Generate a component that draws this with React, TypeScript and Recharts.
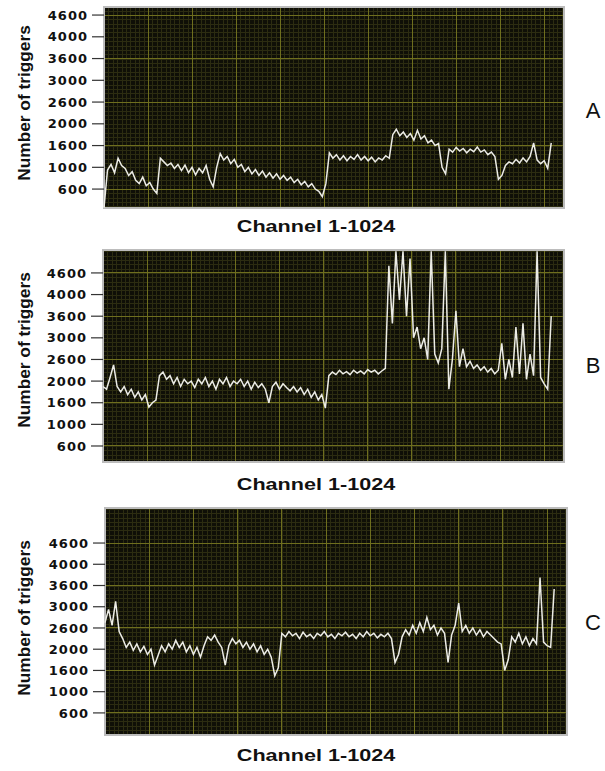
import React from "react";
import { CartesianGrid, Line, LineChart, ReferenceArea, XAxis, YAxis } from "recharts";

// tick labels as printed on the figure (evenly spaced on the axis)
const yLabels = ["600", "1000", "1600", "2000", "2600", "3000", "3600", "4000", "4600"];
const yLabelValues = [600, 1000, 1600, 2000, 2600, 3000, 3600, 4000, 4600];
const majorX = [100, 200, 300, 400, 500, 600, 700, 800, 900, 1000];

// triggers per channel, one reading every 8 channels
const panelA = [
  260, 950, 1080, 900, 1250, 1050, 980, 850, 920, 760,
  700, 820, 660, 720, 600, 520, 1250, 1150, 1050, 1120,
  980, 1080, 940, 1060, 900, 1000, 860, 980, 900, 1050,
  780, 640, 1000, 1380, 1200, 1300, 1100, 1220, 1000, 1080,
  920, 1000, 880, 960, 850, 930, 820, 900, 800, 880,
  780, 850, 760, 820, 720, 780, 680, 740, 640, 700,
  600, 560, 460, 700, 1400, 1250, 1350, 1200, 1320, 1180,
  1300, 1220, 1350, 1200, 1300, 1180, 1280, 1150, 1260, 1200,
  1320, 1250, 1800, 1900, 1780, 1850, 1750, 1820, 1700, 1880,
  1720, 1780, 1650, 1700, 1600, 1640, 1000, 880, 1500, 1420,
  1550, 1450, 1520, 1400, 1500, 1430, 1560, 1420, 1480, 1350,
  1420, 1300, 780, 850, 1050, 1150, 1100, 1220, 1120, 1260,
  1150, 1300, 1650, 1200, 1100, 1180, 980, 1650,
];

const panelB = [
  1900, 1850, 2100, 2450, 1900, 1800, 1900, 1750, 1850, 1700,
  1800, 1650, 1750, 1480, 1600, 1650, 2150, 2250, 2050, 2150,
  1950, 2100, 1900, 2050, 1950, 2000, 1880, 2050, 1950, 2100,
  1900, 2000, 1850, 2050, 1950, 2100, 1900, 2000, 1950, 2050,
  1900, 2000, 1850, 1980, 1880, 1950, 1850, 1600, 1900, 1980,
  1850, 1950, 1880, 1820, 1900, 1800, 1880, 1750, 1850, 1700,
  1800, 1650, 1750, 1450, 2150, 2250, 2180, 2300, 2200, 2260,
  2180, 2300, 2220, 2280, 2200, 2320, 2250, 2300, 2200, 2280,
  2350, 4800, 3400, 5200, 3900, 5200, 3600, 5000, 3000, 3300,
  2800, 3000, 2600, 5200, 2700, 2500, 2800, 5200, 1850, 2600,
  3700, 2400, 2800, 2400, 2550, 2350, 2450, 2300, 2400, 2250,
  2350, 2200, 2300, 2900, 2050, 2600, 2100, 3300, 2200, 3400,
  2050, 2700, 2150, 5200, 2100, 1950, 1850, 3600,
];

const panelC = [
  2700, 2950, 2650, 3150, 2500, 2300, 2050, 2200, 1980, 2150,
  1950, 2080, 1900, 2000, 1700, 1880, 2100, 1950, 2150, 2000,
  2250, 2050, 2200, 1950, 2100, 1900, 2050, 1850, 2100, 2350,
  2250, 2400, 2200, 2050, 1700, 2100, 2300, 2150, 2250, 2050,
  2200, 2000, 2150, 1950, 2100, 1900, 2000, 1850, 1450, 1650,
  2450, 2350, 2500, 2380, 2450, 2300, 2480, 2350, 2420, 2300,
  2450, 2380, 2500, 2350, 2420, 2300, 2450, 2380, 2480, 2350,
  2420, 2300, 2450, 2350, 2500, 2380, 2450, 2320, 2420, 2350,
  2450, 2300, 1750, 1900, 2350, 2550, 2400, 2650, 2450, 2700,
  2500, 2800, 2550, 2650, 2400, 2600, 2450, 1750, 2400, 2650,
  3100, 2500, 2650, 2450, 2600, 2400, 2550, 2350, 2500, 2400,
  2300, 2200, 2150, 1600, 1800, 2350, 2200, 2450, 2150, 2350,
  2100, 2300, 2150, 3750, 2200, 2100, 2050, 3500,
];

// place a trigger count on the evenly spaced label axis
function toPos(v: number) {
  if (v <= yLabelValues[0]) return (v - yLabelValues[0]) / 400;
  for (let k = 1; k < yLabelValues.length; k++) {
    if (v <= yLabelValues[k]) {
      const a = yLabelValues[k - 1];
      const b = yLabelValues[k];
      return k - 1 + (v - a) / (b - a);
    }
  }
  return 8 + (v - 4600) / 600;
}

const X_MAX = 1045;
const minorX: number[] = [];
for (let c = 10; c < X_MAX; c += 10) minorX.push(c);

const textFont = "'Liberation Sans', Arial, sans-serif";

interface PanelProps {
  values: number[];
  plotTop: number;
  plotBottom: number;
  plotLeft: number;
  plotRight: number;
  yDomain: [number, number];
  letter: string;
  letterY: number;
  titleY: number;
  yLabelY: number;
}

function Panel({ values, plotTop, plotBottom, plotLeft, plotRight, yDomain, letter, letterY, titleY, yLabelY }: PanelProps) {
  const data = values.map((v, i) => ({ ch: i * 8, pos: toPos(v) }));
  const minorY: number[] = [];
  for (let p = Math.ceil(yDomain[0] * 5) / 5; p <= yDomain[1]; p += 0.2) minorY.push(Math.round(p * 100) / 100);
  const pad = 5;
  const height = plotBottom - plotTop + pad * 2;
  const [lo, hi] = yDomain;

  // fine grid: same linear mapping as the main axes
  const minorV = ({ offset }: any) => minorX.map((c) => Math.round(offset.left + (c / X_MAX) * offset.width));
  const minorH = ({ offset }: any) => minorY.map((p) => Math.round(offset.top + ((hi - p) / (hi - lo)) * offset.height));

  return (
    <>
      <div style={{ position: "absolute", left: 0, top: plotTop - pad }}>
        <LineChart
          width={605}
          height={height}
          data={data}
          margin={{ top: pad, bottom: pad, left: plotLeft - 50, right: 605 - plotRight }}
        >
          <XAxis xAxisId="main" dataKey="ch" type="number" domain={[0, X_MAX]} ticks={majorX} hide />
          <YAxis
            yAxisId="main"
            type="number"
            domain={yDomain}
            ticks={[0, 1, 2, 3, 4, 5, 6, 7, 8]}
            allowDataOverflow
            width={50}
            axisLine={false}
            tickSize={12}
            tickMargin={4}
            tickLine={{ stroke: "#333", strokeWidth: 1.2 }}
            tickFormatter={(v: number) => yLabels[v] ?? ""}
            tick={{ fill: "#111", fontSize: 13, fontWeight: 700, fontFamily: "'DejaVu Sans', sans-serif", letterSpacing: 1 }}
          />
          <CartesianGrid
            xAxisId="main"
            yAxisId="main"
            stroke="#2c2c11"
            fill="#0f0f07"
            fillOpacity={1}
            shapeRendering="crispEdges"
            verticalCoordinatesGenerator={minorV}
            horizontalCoordinatesGenerator={minorH}
          />
          <CartesianGrid xAxisId="main" yAxisId="main" stroke="#6e6e1e" shapeRendering="crispEdges" />
          <Line
            xAxisId="main"
            yAxisId="main"
            dataKey="pos"
            type="linear"
            stroke="#ecece6"
            strokeWidth={1.5}
            dot={false}
            isAnimationActive={false}
          />
          <ReferenceArea
            xAxisId="main"
            yAxisId="main"
            x1={0}
            x2={X_MAX}
            y1={lo}
            y2={hi}
            fill="none"
            stroke="#bcbcbc"
            strokeWidth={2}
          />
        </LineChart>
      </div>
      <div
        style={{
          position: "absolute",
          left: 25,
          top: yLabelY,
          transform: "translate(-50%, -50%) rotate(-90deg) scaleX(1.08)",
          whiteSpace: "nowrap",
          fontFamily: textFont,
          fontWeight: 700,
          fontSize: 16,
          color: "#111",
          lineHeight: 1,
        }}
      >
        Number of triggers
      </div>
      <div
        style={{
          position: "absolute",
          left: 316,
          top: titleY,
          transform: "translate(-50%, -50%) scaleX(1.27)",
          whiteSpace: "nowrap",
          fontFamily: textFont,
          fontWeight: 700,
          fontSize: 17,
          color: "#111",
          lineHeight: 1,
        }}
      >
        Channel 1-1024
      </div>
      <div
        style={{
          position: "absolute",
          left: 593,
          top: letterY,
          transform: "translate(-50%, -50%)",
          fontFamily: textFont,
          fontSize: 22,
          color: "#111",
          lineHeight: 1,
        }}
      >
        {letter}
      </div>
    </>
  );
}

export default function App() {
  return (
    <div style={{ position: "absolute", left: 0, top: 0, width: 605, height: 771, background: "#fff", overflow: "hidden" }}>
      <Panel
        values={panelA}
        plotTop={7}
        plotBottom={208}
        plotLeft={104}
        plotRight={564}
        yDomain={[-0.87, 8.37]}
        letter="A"
        letterY={111}
        titleY={226}
        yLabelY={103}
      />
      <Panel
        values={panelB}
        plotTop={250}
        plotBottom={462}
        plotLeft={103}
        plotRight={564}
        yDomain={[-0.74, 9.06]}
        letter="B"
        letterY={366}
        titleY={484}
        yLabelY={350}
      />
      <Panel
        values={panelC}
        plotTop={508}
        plotBottom={735}
        plotLeft={105}
        plotRight={567}
        yDomain={[-1.04, 9.65]}
        letter="C"
        letterY={623}
        titleY={755}
        yLabelY={618}
      />
    </div>
  );
}
